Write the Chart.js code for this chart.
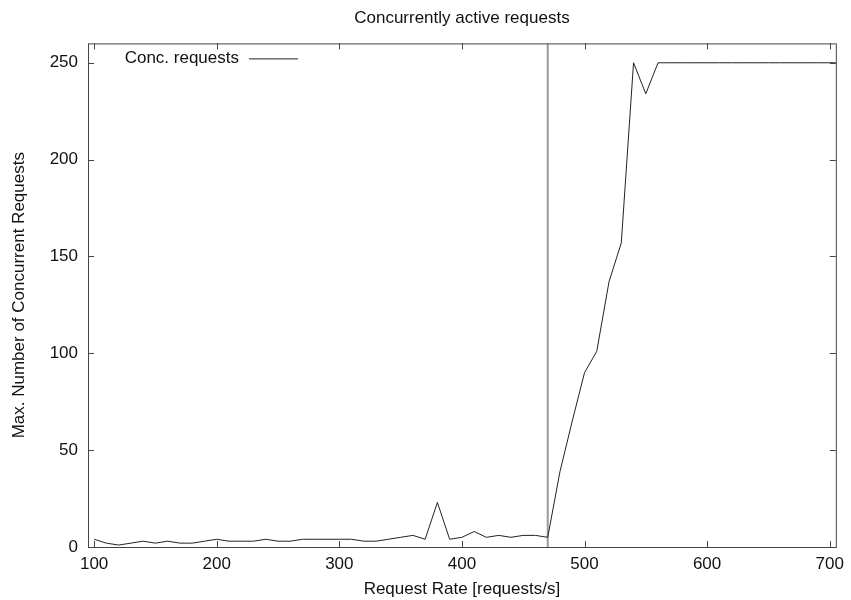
<!DOCTYPE html>
<html>
<head>
<meta charset="utf-8">
<title>Concurrently active requests</title>
<script src="https://cdn.jsdelivr.net/npm/chart.js@4/dist/chart.umd.min.js"></script>
<style>
  html, body { margin: 0; padding: 0; background: #fff; }
  #wrap { width: 851px; height: 600px; }
</style>
</head>
<body>
<div id="wrap"><canvas id="myChart" width="851" height="600"></canvas></div>
<script>
// request rate (x) and max concurrent requests (y)
var rates = [100, 110, 120, 130, 140, 150, 160, 170, 180, 190,
             200, 210, 220, 230, 240, 250, 260, 270, 280, 290,
             300, 310, 320, 330, 340, 350, 360, 370, 380, 390,
             400, 410, 420, 430, 440, 450, 460, 470, 480, 490,
             500, 510, 520, 530, 540, 550, 560, 570, 580, 590,
             600, 610, 620, 630, 640, 650, 660, 670, 680, 690, 700, 710];
var concRequests = [4, 2, 1, 2, 3, 2, 3, 2, 2, 3,
                    4, 3, 3, 3, 4, 3, 3, 4, 4, 4,
                    4, 4, 3, 3, 4, 5, 6, 4, 23, 4,
                    5, 8, 5, 6, 5, 6, 6, 5, 39, 65,
                    90, 101, 137, 157, 250, 234, 250, 250, 250, 250,
                    250, 250, 250, 250, 250, 250, 250, 250, 250, 250, 250, 250];

var xTicks = [100, 200, 300, 400, 500, 600, 700];
var yTicks = [0, 50, 100, 150, 200, 250];
var xRange = [95, 705];
var yRange = [0, 260];
var markerRate = 470;   // vertical marker line

var font = "'Liberation Sans', Arial, sans-serif";

// gnuplot-like frame with inward ticks + key
var framePlugin = {
  id: 'frame',
  afterDatasetsDraw: function (chart) {
    var ctx = chart.ctx;
    var a = chart.chartArea;
    var xs = chart.scales.x, ys = chart.scales.y;
    var tl = 6;
    ctx.save();
    ctx.strokeStyle = '#444';
    ctx.lineWidth = 1;
    ctx.strokeRect(a.left + 0.5, a.top + 0.5, a.right - a.left, a.bottom - a.top);
    ctx.beginPath();
    xTicks.forEach(function (v) {
      var px = Math.round(xs.getPixelForValue(v)) + 0.5;
      ctx.moveTo(px, a.bottom); ctx.lineTo(px, a.bottom - tl);
      ctx.moveTo(px, a.top); ctx.lineTo(px, a.top + tl);
    });
    yTicks.forEach(function (v) {
      var py = Math.round(ys.getPixelForValue(v)) + 0.5;
      ctx.moveTo(a.left, py); ctx.lineTo(a.left + tl, py);
      ctx.moveTo(a.right, py); ctx.lineTo(a.right - tl, py);
    });
    ctx.stroke();

    // key, top left: text then line sample
    var ds = chart.data.datasets[0];
    var ky = a.top + 15;
    ctx.font = '17px ' + font;
    ctx.fillStyle = '#111';
    ctx.textAlign = 'right';
    ctx.textBaseline = 'middle';
    ctx.fillText(ds.label, a.left + 151, ky);
    ctx.strokeStyle = ds.borderColor;
    ctx.lineWidth = 1;
    ctx.beginPath();
    ctx.moveTo(a.left + 161, ky + 0.5);
    ctx.lineTo(a.left + 210, ky + 0.5);
    ctx.stroke();
    ctx.restore();
  }
};

var ctx = document.getElementById('myChart').getContext('2d');
var chart = new Chart(ctx, {
  type: 'line',
  data: {
    datasets: [{
      label: 'Conc. requests',
      data: rates.map(function (r, i) { return { x: r, y: concRequests[i] }; }),
      borderColor: '#222',
      borderWidth: 1,
      pointRadius: 0,
      tension: 0,
      fill: false
    }, {
      label: 'marker',
      data: [{ x: markerRate, y: yRange[0] }, { x: markerRate, y: yRange[1] }],
      borderColor: '#999',
      borderWidth: 2,
      pointRadius: 0,
      fill: false
    }]
  },
  plugins: [framePlugin],
  options: {
    responsive: false,
    animation: false,
    layout: { padding: { left: 0, right: 13, top: 0, bottom: 0 } },
    plugins: {
      legend: { display: false },
      tooltip: { enabled: false },
      title: {
        display: true,
        fullSize: false,
        text: 'Concurrently active requests',
        color: '#111',
        font: { family: font, size: 17, weight: 'normal' },
        padding: { top: 8, bottom: 15 }
      }
    },
    scales: {
      x: {
        type: 'linear',
        min: xRange[0],
        max: xRange[1],
        afterBuildTicks: function (s) { s.ticks = xTicks.map(function (v) { return { value: v }; }); },
        afterFit: function (s) { s.height = 53; },
        grid: { display: false, drawTicks: false },
        border: { display: false },
        ticks: { color: '#111', padding: 7, maxRotation: 0, font: { family: font, size: 17 } },
        title: {
          display: true,
          text: 'Request Rate [requests/s]',
          color: '#111',
          font: { family: font, size: 17 },
          padding: { top: 0, bottom: 0 }
        }
      },
      y: {
        min: yRange[0],
        max: yRange[1],
        afterBuildTicks: function (s) { s.ticks = yTicks.map(function (v) { return { value: v }; }); },
        afterFit: function (s) { s.width = 88; },
        grid: { display: false, drawTicks: false },
        border: { display: false },
        ticks: { color: '#111', padding: 10, font: { family: font, size: 17 } },
        title: {
          display: true,
          text: 'Max. Number of Concurrent Requests',
          color: '#111',
          font: { family: font, size: 17 },
          padding: { top: 9, bottom: 0 }
        }
      }
    }
  }
});
</script>
</body>
</html>
